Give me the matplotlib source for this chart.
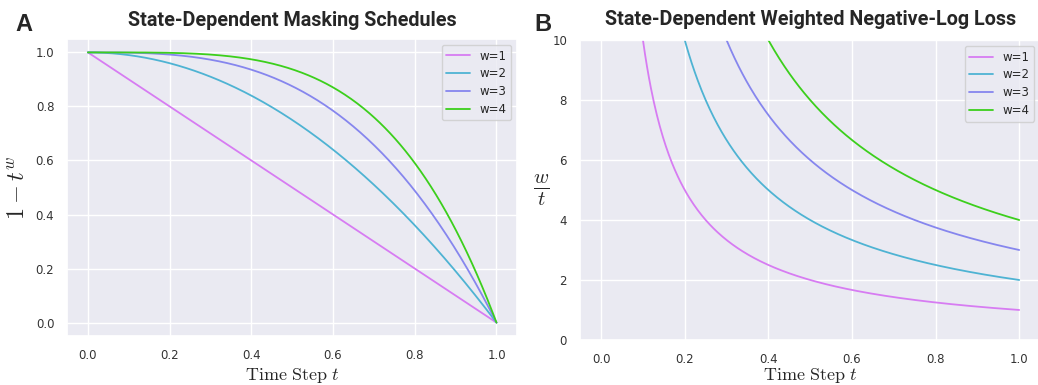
import numpy as np
import matplotlib
matplotlib.use('Agg')
import matplotlib.pyplot as plt
import seaborn as sns

# Exponents / weights for each curve
weights = [1, 2, 3, 4]
labels = ['w=1', 'w=2', 'w=3', 'w=4']
colors = ['#d77cf2', '#4eb3d3', '#8686ee', '#3ccf1c']

# time grid for the two panels
t_sched = np.linspace(0, 1, 400)
t_loss = np.linspace(0.05, 1, 400)

sns.set_theme(style='darkgrid')
plt.rcParams['mathtext.fontset'] = 'cm'
plt.rcParams['font.family'] = ['DejaVu Sans']

fig = plt.figure(figsize=(10.38, 3.85), dpi=100)
ax1 = fig.add_axes([0.065, 0.127, 0.433, 0.772])
ax2 = fig.add_axes([0.559, 0.117, 0.443, 0.779])

# Panel A: masking schedules 1 - t^w
for w, lab, c in zip(weights, labels, colors):
    ax1.plot(t_sched, 1 - t_sched ** w, color=c, lw=1.3, label=lab)
ax1.set_title('State-Dependent Masking Schedules', fontsize=14.2,
              fontweight='bold', family='Roboto', pad=9)
ax1.set_xlabel(r'$\mathrm{Time\ Step}\ t$', fontsize=13, labelpad=3)
ax1.set_ylabel(r'$1 - t^w$', fontsize=17.5, labelpad=4)
ax1.tick_params(labelsize=8.5, labelcolor='#333333')
ax1.legend(loc='upper right', fontsize=8.5, labelspacing=0.4)

# Panel B: weighted negative-log loss w / t
for w, lab, c in zip(weights, labels, colors):
    ax2.plot(t_loss, w / t_loss, color=c, lw=1.3, label=lab)
ax2.set_ylim(0, 10)
ax2.set_xlim(-0.05, 1.05)
ax2.set_title('State-Dependent Weighted Negative-Log Loss', fontsize=14.2,
              fontweight='bold', family='Roboto', pad=11)
ax2.set_xlabel(r'$\mathrm{Time\ Step}\ t$', fontsize=13, labelpad=0)
ax2.set_ylabel(r'$\frac{w}{t}$', fontsize=21, rotation=0, labelpad=8, va='center')
ax2.tick_params(labelsize=8.5, labelcolor='#333333')
ax2.legend(loc='upper right', fontsize=8.5, labelspacing=0.4)

fig.text(0.015, 0.92, 'A', fontsize=17, fontweight='bold', family='Liberation Sans')
fig.text(0.515, 0.92, 'B', fontsize=17, fontweight='bold', family='Liberation Sans')

fig.savefig('out.png', dpi=100)
